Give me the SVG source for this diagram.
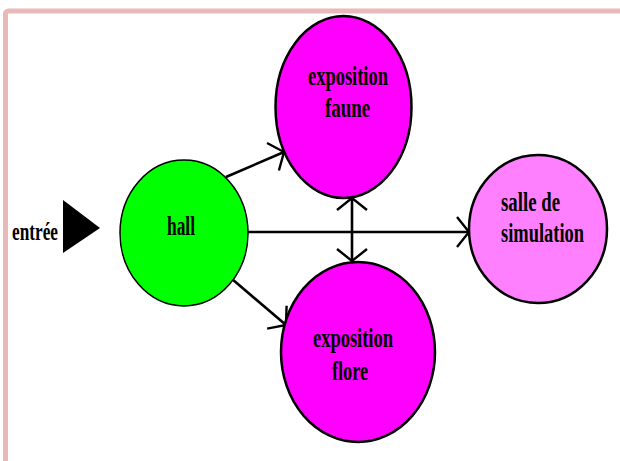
<svg xmlns="http://www.w3.org/2000/svg" width="620" height="461" viewBox="0 0 620 461">
<defs>
<style>
.lbl{font-family:"Liberation Serif","Times New Roman",serif;font-weight:bold;font-size:27px;fill:#000;text-anchor:middle}
.conn{stroke:#000;stroke-width:2.6;fill:none}
.node{stroke:#000;stroke-width:2.5}
</style>
<marker id="ah" markerUnits="userSpaceOnUse" markerWidth="40" markerHeight="40" viewBox="-20 -20 40 40" refX="0" refY="0" orient="auto-start-reverse">
<path d="M-12,-15 L0,0 L-12,15" fill="none" stroke="#000" stroke-width="2.4"/>
</marker>
</defs>
<rect x="5.5" y="11" width="700" height="500" rx="3" fill="#fff" stroke="#e8b9b9" stroke-width="5"/>
<g id="entree">
<polygon points="63,200 100,228 63,253" fill="#000"/>
<text class="lbl" x="35" y="240" textLength="46" lengthAdjust="spacingAndGlyphs" style="font-size:25px">entrée</text>
</g>
<g id="connectors">
<line class="conn" x1="226" y1="177" x2="284" y2="152" marker-end="url(#ah)"/>
<line class="conn" x1="232" y1="279" x2="286" y2="325" marker-end="url(#ah)"/>
<line class="conn" x1="248" y1="232" x2="469" y2="232" marker-end="url(#ah)"/>
<line class="conn" x1="352" y1="198" x2="352" y2="261" marker-start="url(#ah)" marker-end="url(#ah)"/>
</g>
<g id="hall">
<ellipse cx="184" cy="233" rx="64" ry="73" fill="#00ff00" stroke="#000" stroke-width="1.5"/>
<text class="lbl" x="181" y="235" textLength="28" lengthAdjust="spacingAndGlyphs">hall</text>
</g>
<g id="faune">
<ellipse class="node" cx="343.5" cy="107" rx="68" ry="91" fill="#ff00ff"/>
<text class="lbl" x="348" y="85" textLength="80" lengthAdjust="spacingAndGlyphs">exposition</text>
<text class="lbl" x="347.5" y="117" textLength="45" lengthAdjust="spacingAndGlyphs">faune</text>
</g>
<g id="flore">
<ellipse class="node" cx="358" cy="352" rx="77" ry="90" fill="#ff00ff"/>
<text class="lbl" x="353" y="347" textLength="80" lengthAdjust="spacingAndGlyphs">exposition</text>
<text class="lbl" x="350" y="380" textLength="36" lengthAdjust="spacingAndGlyphs">flore</text>
</g>
<g id="salle">
<ellipse class="node" cx="538" cy="229" rx="69" ry="74" fill="#ff80ff"/>
<text class="lbl" x="530.5" y="211" textLength="59" lengthAdjust="spacingAndGlyphs">salle de</text>
<text class="lbl" x="0" y="0" transform="translate(542.5,242) scale(0.683,1)">simulation</text>
</g>
</svg>
